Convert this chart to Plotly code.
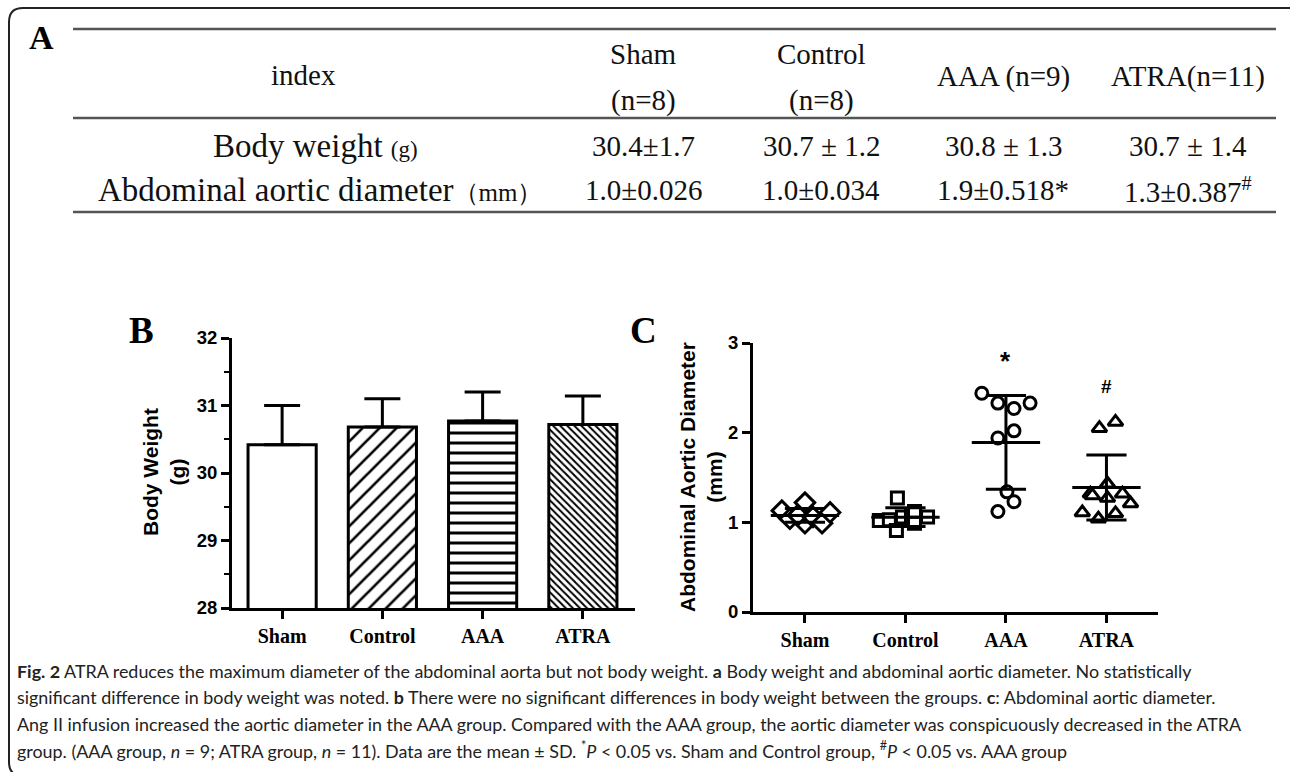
import numpy as np
import plotly.graph_objects as go

W, H = 1290, 772

# ---------------- data ----------------
groups = ["Sham", "Control", "AAA", "ATRA"]

# Panel A table
table_header = ["index", "Sham<br>(n=8)", "Control<br>(n=8)", "AAA (n=9)", "ATRA(n=11)"]
row_bw = ["30.4±1.7", "30.7 ± 1.2", "30.8 ± 1.3", "30.7 ± 1.4"]
row_diam = ["1.0±0.026", "1.0±0.034", "1.9±0.518*", "1.3±0.387<sup>#</sup>"]

# Panel B body weight (mean, error)
bw_mean = [30.42, 30.68, 30.77, 30.72]
bw_err = [0.58, 0.42, 0.43, 0.42]

# Panel C individual diameters (mm)
diam_sham = [1.13, 1.04, 1.22, 0.99, 1.08, 1.06, 0.99, 1.11]
diam_control = [1.02, 1.03, 1.27, 0.91, 1.06, 1.12, 0.99, 1.06]
diam_aaa = [2.44, 2.33, 2.27, 2.33, 2.02, 1.94, 1.34, 1.23, 1.12]
diam_atra = [2.05, 2.12, 1.32, 1.43, 1.27, 1.32, 1.21, 1.11, 1.04, 1.10, 1.30]

# horizontal scatter offsets (layout of the dot plot)
jit_sham = [-0.23, -0.15, 0.0, 0.0, -0.07, 0.08, 0.17, 0.25]
jit_control = [-0.26, -0.16, -0.08, -0.09, -0.03, 0.09, 0.09, 0.22]
jit_aaa = [-0.24, -0.08, 0.08, 0.24, 0.08, -0.08, 0.01, 0.08, -0.08]
jit_atra = [-0.07, 0.09, -0.16, 0.01, 0.01, 0.16, 0.24, -0.24, -0.08, 0.09, -0.14]

caption_lines = [
    "<b>Fig. 2</b> ATRA reduces the maximum diameter of the abdominal aorta but not body weight. <b>a</b> Body weight and abdominal aortic diameter. No statistically",
    "significant difference in body weight was noted. <b>b</b> There were no significant differences in body weight between the groups. <b>c</b>: Abdominal aortic diameter.",
    "Ang II infusion increased the aortic diameter in the AAA group. Compared with the AAA group, the aortic diameter was conspicuously decreased in the ATRA",
    "group. (AAA group, <i>n</i> = 9; ATRA group, <i>n</i> = 11). Data are the mean ± SD. <sup>*</sup><i>P</i> &lt; 0.05 vs. Sham and Control group, <sup>#</sup><i>P</i> &lt; 0.05 vs. AAA group",
]


def px(x):
    return x / W


def py(y):
    return 1 - y / H


SERIF = "Liberation Serif, Times New Roman, serif"
SANS = "Liberation Sans, Arial, sans-serif"

fig = go.Figure()

# ---------------- Panel B: bars ----------------
fig.add_trace(go.Bar(
    x=list(range(4)), y=bw_mean, width=0.68,
    marker=dict(color="white", line=dict(color="black", width=3),
                pattern=dict(shape=["", "/", "-", "\\"], size=[10, 12, 10, 5],
                             solidity=[0.2, 0.22, 0.3, 0.4],
                             fgcolor="black", bgcolor="white", fillmode="replace")),
    error_y=dict(type="data", array=bw_err, arrayminus=[0] * 4, symmetric=False,
                 thickness=3, width=18, color="black"),
    xaxis="x", yaxis="y", showlegend=False, hoverinfo="skip",
))

# ---------------- Panel C: dot plot ----------------
sets = [diam_sham, diam_control, diam_aaa, diam_atra]
jits = [jit_sham, jit_control, jit_aaa, jit_atra]
symbols = ["diamond", "square", "circle", "triangle-up"]
sizes = [15, 12, 12, 13]
for i, (vals, jit, sym, sz) in enumerate(zip(sets, jits, symbols, sizes)):
    fig.add_trace(go.Scatter(
        x=[i + j for j in jit], y=vals, mode="markers",
        marker=dict(symbol=sym, size=sz, color="white", line=dict(color="black", width=3)),
        xaxis="x2", yaxis="y2", showlegend=False, hoverinfo="skip", cliponaxis=False,
    ))

lx, ly = [], []
for i, vals in enumerate(sets):
    m = float(np.mean(vals))
    s = float(np.std(vals, ddof=1))
    lx += [i - 0.34, i + 0.34, None, i, i, None, i - 0.2, i + 0.2, None, i - 0.2, i + 0.2, None]
    ly += [m, m, None, m - s, m + s, None, m + s, m + s, None, m - s, m - s, None]
fig.add_trace(go.Scatter(x=lx, y=ly, mode="lines", line=dict(color="black", width=3),
                         xaxis="x2", yaxis="y2", showlegend=False, hoverinfo="skip"))

# ---------------- axes ----------------
common_x = dict(showline=True, linecolor="black", linewidth=3, ticks="outside",
                ticklen=8, tickwidth=3, tickcolor="black", showgrid=False, zeroline=False,
                tickvals=list(range(4)), ticktext=groups, automargin=False,
                tickfont=dict(family=SERIF, size=20, color="black", weight="bold"),
                fixedrange=True)
common_y = dict(showline=True, linecolor="black", linewidth=3, ticks="outside",
                ticklen=8, tickwidth=3, tickcolor="black", showgrid=False, zeroline=False,
                automargin=False,
                tickfont=dict(family=SANS, size=18.5, color="black", weight="bold"),
                fixedrange=True)

fig.update_layout(
    width=W, height=H, margin=dict(l=0, r=0, t=0, b=0, pad=0, autoexpand=False),
    paper_bgcolor="white", plot_bgcolor="white",
    xaxis=dict(domain=[px(232), px(635)], range=[-0.5, 3.52], anchor="y", **common_x),
    yaxis=dict(domain=[py(608), py(338)], range=[28, 32], anchor="x",
               tickvals=[28, 29, 30, 31, 32],
               minor=dict(ticks="outside", ticklen=5, tickwidth=2, tickcolor="black", dtick=0.5),
               **common_y),
    xaxis2=dict(domain=[px(753), px(1158)], range=[-0.517, 3.513], anchor="y2", **common_x),
    yaxis2=dict(domain=[py(612), py(343)], range=[0, 3], anchor="x2",
                tickvals=[0, 1, 2, 3], **common_y),
)

ann = []
shapes = []

# border (rounded corners on the left)
r = 14
path = (f"M {px(1300)},{py(8)} L {px(9 + r)},{py(8)} Q {px(9)},{py(8)} {px(9)},{py(8 + r)} "
        f"L {px(9)},{py(762)} Q {px(9)},{py(776)} {px(9 + r)},{py(776)} L {px(1300)},{py(776)}")
shapes.append(dict(type="path", xref="paper", yref="paper", path=path,
                   line=dict(color="#222", width=2)))

# table rules
for yy in [29, 118, 212]:
    shapes.append(dict(type="line", xref="paper", yref="paper",
                       x0=px(73), x1=px(1276), y0=py(yy), y1=py(yy),
                       line=dict(color="#555", width=2.5)))

# Panel letters
for letter, x, y, sz in [("A", 41, 38, 34), ("B", 141, 330, 37), ("C", 643, 330, 37)]:
    ann.append(dict(text=letter, x=px(x), y=py(y), xref="paper", yref="paper",
                    showarrow=False, xanchor="center", yanchor="middle",
                    font=dict(family=SERIF, size=sz, color="black", weight="bold")))

# table text
col_x = [643, 821, 1003, 1188]
def tab(text, x, y, size=29):
    ann.append(dict(text=text, x=px(x), y=py(y), xref="paper", yref="paper",
                    showarrow=False, xanchor="center", yanchor="middle",
                    font=dict(family=SERIF, size=size, color="#111")))

tab(table_header[0], 303, 75)
for j, h in enumerate(table_header[1:]):
    if "<br>" in h:
        a, b = h.split("<br>")
        tab(a, col_x[j], 54)
        tab(b, col_x[j], 100)
    else:
        tab(h, col_x[j], 76)
tab("Body weight <span style='font-size:23px'>(g)</span>", 315, 146, 33)
tab("Abdominal aortic diameter<span style='font-size:25px'>（mm）</span>", 320, 190, 33)
for j in range(4):
    tab(row_bw[j], col_x[j], 146)
    tab(row_diam[j], col_x[j], 190)

# axis titles
ann.append(dict(text="Body Weight<br>(g)", x=px(164), y=py(472), xref="paper", yref="paper",
                showarrow=False, textangle=-90, xanchor="center", yanchor="middle",
                font=dict(family=SANS, size=21, color="black", weight="bold")))
ann.append(dict(text="Abdominal Aortic Diameter<br>(mm)", x=px(701), y=py(477), xref="paper",
                yref="paper", showarrow=False, textangle=-90, xanchor="center", yanchor="middle",
                font=dict(family=SANS, size=21, color="black", weight="bold")))

# significance marks
ann.append(dict(text="*", x=2, y=2.80, xref="x2", yref="y2", showarrow=False,
                font=dict(family=SANS, size=26, color="black", weight="bold")))
ann.append(dict(text="#", x=3, y=2.52, xref="x2", yref="y2", showarrow=False,
                font=dict(family=SANS, size=19, color="black", weight="bold")))

# caption
for k, line in enumerate(caption_lines):
    ann.append(dict(text=line, x=px(15), y=py(671 + 26.3 * k), xref="paper", yref="paper",
                    showarrow=False, xanchor="left", yanchor="middle",
                    font=dict(family="Lato, Noto Sans, sans-serif", size=17.9, color="#222")))

fig.update_layout(annotations=ann, shapes=shapes)
fig.write_html("out.html", config={"displayModeBar": False, "staticPlot": True},
               post_script="document.body.style.margin='0';document.body.style.overflow='hidden';")
